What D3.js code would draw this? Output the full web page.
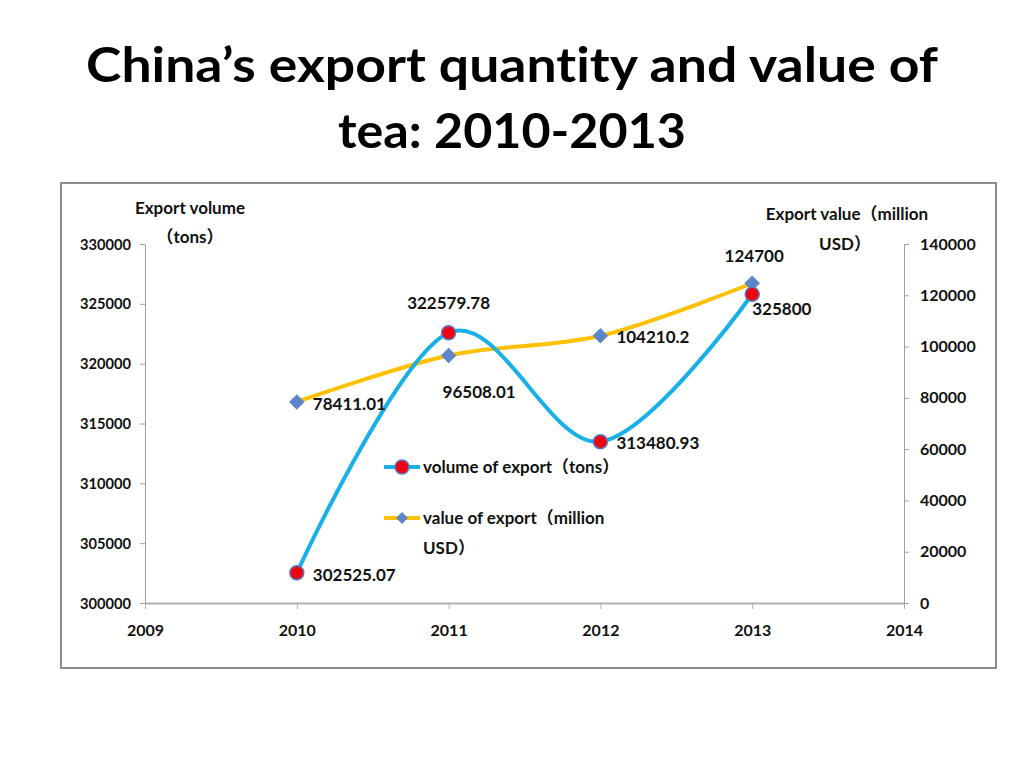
<!DOCTYPE html>
<html><head><meta charset="utf-8">
<script src="https://cdn.jsdelivr.net/npm/d3@7"></script>
<style>body{margin:0;background:#fff}svg{display:block}text{font-variant-ligatures:none}</style>
</head><body>
<svg id="c" width="1024" height="768"></svg>
<script>
const years = [2010, 2011, 2012, 2013];
const volume = [302525.07, 322579.78, 313480.93, 325800];
const value = [78411.01, 96508.01, 104210.2, 124700];
const volumeLabels = ["302525.07", "322579.78", "313480.93", "325800"];
const valueLabels = ["78411.01", "96508.01", "104210.2", "124700"];
const xTicks = [2009, 2010, 2011, 2012, 2013, 2014];
const leftTicks = [300000, 305000, 310000, 315000, 320000, 325000, 330000];
const rightTicks = [0, 20000, 40000, 60000, 80000, 100000, 120000, 140000];

const svg = d3.select("#c");
const F = "Lato, 'Noto Sans CJK SC', sans-serif";

// title
svg.append("text").attr("x", 512).attr("y", 82).attr("text-anchor", "middle")
  .attr("font-family", F).attr("font-weight", 700).attr("font-size", 48)
  .attr("textLength", 852).attr("lengthAdjust", "spacingAndGlyphs")
  .text("China\u2019s export quantity and value of");
svg.append("text").attr("x", 512).attr("y", 148).attr("text-anchor", "middle")
  .attr("font-family", F).attr("font-weight", 700).attr("font-size", 48)
  .attr("textLength", 348).attr("lengthAdjust", "spacingAndGlyphs")
  .text("tea: 2010-2013");

// frame
svg.append("rect").attr("x", 61).attr("y", 183).attr("width", 935).attr("height", 485)
  .attr("fill", "#fff").attr("stroke", "#8c8c8c").attr("stroke-width", 2);

const x = d3.scaleLinear().domain([2009, 2014]).range([145, 904]);
const yL = d3.scaleLinear().domain([300000, 330000]).range([603, 244]);
const yR = d3.scaleLinear().domain([0, 140000]).range([603, 244]);

const tickFont = g => g.selectAll("text").attr("font-family", F).attr("font-weight", 700)
  .attr("font-size", 16).attr("fill", "#111");

const gx = svg.append("g").attr("transform", "translate(0,603)")
  .call(d3.axisBottom(x).tickValues(xTicks).tickFormat(d3.format("d")).tickSize(6).tickSizeOuter(0).tickPadding(16));
gx.select(".domain").attr("stroke", "#b0b0b0").attr("stroke-width", 2);
gx.selectAll("line").attr("stroke", "#b0b0b0");
gx.call(tickFont);

const gl = svg.append("g").attr("transform", "translate(145,0)")
  .call(d3.axisLeft(yL).tickValues(leftTicks).tickFormat(d3.format("d")).tickSize(5).tickSizeOuter(0).tickPadding(9));
gl.select(".domain").attr("stroke", "#a0a0a0");
gl.selectAll("line").attr("stroke", "#a0a0a0");
gl.call(tickFont);
gl.selectAll("text").attr("textLength", 51).attr("lengthAdjust", "spacingAndGlyphs");

const gr = svg.append("g").attr("transform", "translate(904,0)")
  .call(d3.axisRight(yR).tickValues(rightTicks).tickFormat(d3.format("d")).tickSize(5).tickSizeOuter(0).tickPadding(11));
gr.select(".domain").attr("stroke", "#a0a0a0");
gr.selectAll("line").attr("stroke", "#a0a0a0");
gr.call(tickFont);

// axis titles
const lab = (t, xx, yy, anchor, fs) => svg.append("text").attr("x", xx).attr("y", yy)
  .attr("text-anchor", anchor || "start").attr("font-family", F).attr("font-weight", 700)
  .attr("font-size", fs || 17).attr("fill", "#111").text(t);
lab("Export volume", 190, 214, "middle", 17);
lab("\uFF08tons\uFF09", 190, 243, "middle", 17);
lab("Export value\uFF08million", 847, 220, "middle", 17);
lab("USD\uFF09", 845, 250, "middle", 17);

// lines
const curve = d3.curveCardinal.tension(0);
const lineVol = d3.line().x((d, i) => x(years[i])).y(d => yL(d)).curve(curve);
const lineVal = d3.line().x((d, i) => x(years[i])).y(d => yR(d)).curve(curve);

svg.append("path").attr("d", lineVal(value)).attr("fill", "none")
  .attr("stroke", "#FFC000").attr("stroke-width", 4);
svg.append("path").attr("d", lineVol(volume)).attr("fill", "none")
  .attr("stroke", "#18B0E8").attr("stroke-width", 4);

const diamond = d3.symbol().type(d3.symbolSquare).size(120);
svg.selectAll(".dv").data(value).join("path")
  .attr("transform", (d, i) => `translate(${x(years[i])},${yR(d)}) rotate(45)`)
  .attr("d", diamond).attr("fill", "#5B86C8");
svg.selectAll(".cv").data(volume).join("circle")
  .attr("cx", (d, i) => x(years[i])).attr("cy", d => yL(d)).attr("r", 7)
  .attr("fill", "#F00010").attr("stroke", "#5B7BC0").attr("stroke-width", 1.5);

// data labels
const volPos = [[16, 8, "start"], [0, -24, "middle"], [16, 7, "start"], [0, 21, "start"]];
const valPos = [[16, 8, "start"], [-6, 42, "start"], [16, 7, "start"], [2, -21, "middle"]];
volume.forEach((d, i) => lab(volumeLabels[i], x(years[i]) + volPos[i][0], yL(d) + volPos[i][1], volPos[i][2]));
value.forEach((d, i) => lab(valueLabels[i], x(years[i]) + valPos[i][0], yR(d) + valPos[i][1], valPos[i][2]));

// legend
const lg = svg.append("g");
const L1 = 467, L2 = 518;
lg.append("line").attr("x1", 384).attr("x2", 420).attr("y1", L1).attr("y2", L1).attr("stroke", "#18B0E8").attr("stroke-width", 4);
lg.append("circle").attr("cx", 402).attr("cy", L1).attr("r", 7).attr("fill", "#F00010").attr("stroke", "#5B7BC0").attr("stroke-width", 1.5);
lg.append("line").attr("x1", 384).attr("x2", 420).attr("y1", L2).attr("y2", L2).attr("stroke", "#FFC000").attr("stroke-width", 4);
lg.append("path").attr("transform", `translate(402,${L2}) rotate(45)`).attr("d", d3.symbol().type(d3.symbolSquare).size(70)).attr("fill", "#5B86C8");
lab("volume of export\uFF08tons\uFF09", 423, L1 + 6);
lab("value of export\uFF08million", 423, L2 + 6);
lab("USD\uFF09", 423, L2 + 36);
</script>
</body></html>
